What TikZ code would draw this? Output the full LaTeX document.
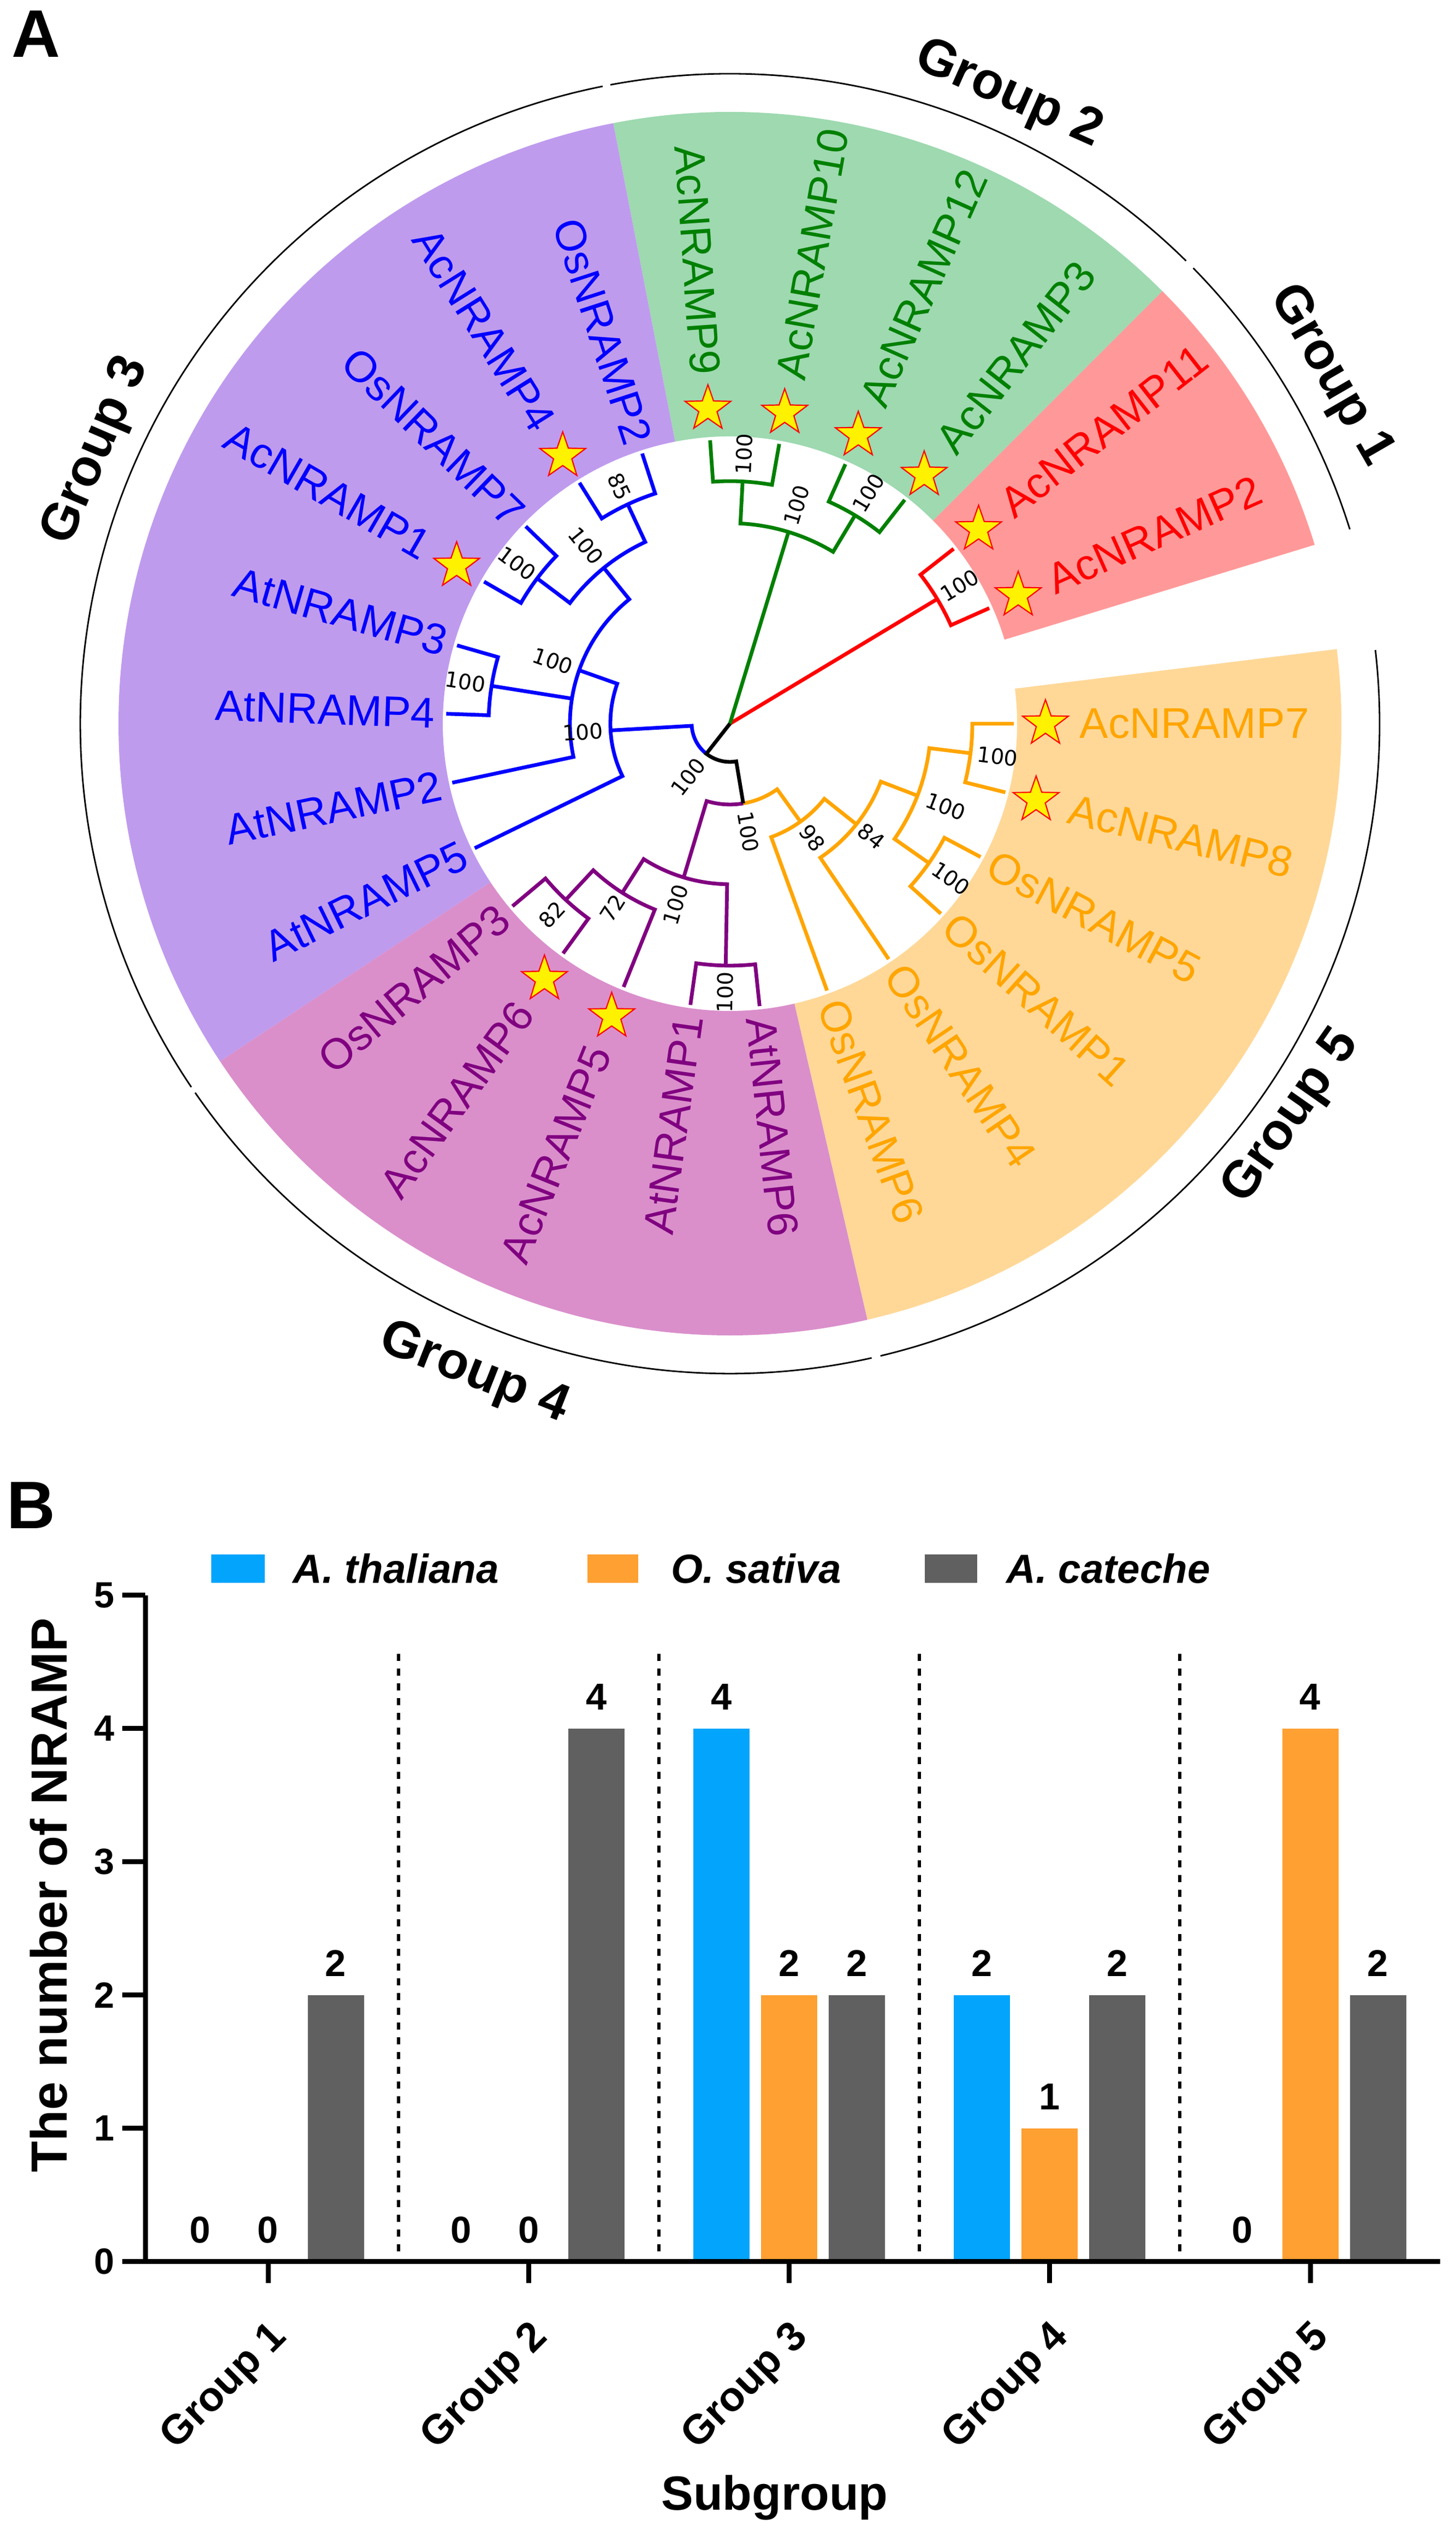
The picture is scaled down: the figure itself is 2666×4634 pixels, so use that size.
\documentclass[tikz,border=0pt]{standalone}
\usepackage{fontspec}
\setmainfont{Liberation Sans}
\newfontfamily\bsfont{DejaVu Sans}
\usetikzlibrary{shapes.geometric}
\definecolor{cred}{RGB}{255,0,0}
\definecolor{cgreen}{RGB}{0,128,0}
\definecolor{cblue}{RGB}{0,0,255}
\definecolor{cpurple}{RGB}{128,0,128}
\definecolor{corange}{RGB}{255,165,0}
\definecolor{sred}{RGB}{255,153,153}
\definecolor{sgreen}{RGB}{158,217,176}
\definecolor{spurple}{RGB}{191,155,238}
\definecolor{spink}{RGB}{218,143,203}
\definecolor{sorange}{RGB}{255,216,152}
\definecolor{barblue}{RGB}{3,165,252}
\definecolor{barorange}{RGB}{255,160,50}
\definecolor{bargray}{RGB}{96,96,96}
\newcommand\fLeaf{\fontsize{22.4}{26}\selectfont}
\newcommand\fBoot{\bsfont\fontsize{11.1}{13}\selectfont}
\newcommand\fGroup{\bfseries\fontsize{27}{32}\selectfont}
\newcommand\fPanel{\bfseries\fontsize{35}{40}\selectfont}
\newcommand\fTick{\bfseries\fontsize{19}{22}\selectfont}
\newcommand\fNum{\bfseries\fontsize{19.5}{23}\selectfont}
\newcommand\fLeg{\bfseries\itshape\fontsize{21.2}{25}\selectfont}
\newcommand\fTitle{\bfseries\fontsize{25}{30}\selectfont}
\newcommand\fYTitle{\bfseries\fontsize{26.5}{30}\selectfont}
\newcommand\fXlab{\bfseries\fontsize{21.5}{24}\selectfont}
\begin{document}
\begin{tikzpicture}[x=0.01cm,y=0.01cm,
  br/.style={line width=0.068cm, line join=miter},
  leafR/.style={anchor=west, inner sep=0pt, font=\fLeaf},
  leafL/.style={anchor=east, inner sep=0pt, font=\fLeaf},
  bs/.style={inner sep=0pt, font=\fBoot, text=black},
  starnode/.style={star, star points=5, star point ratio=2.5, fill=yellow, draw=red, line width=0.022cm, minimum size=0.88cm, inner sep=0pt},
  gbr/.style={line width=0.028cm, black},
  glab/.style={inner sep=0pt, font=\fGroup},
  axis/.style={line width=0.09cm, black},
  numlab/.style={inner sep=0pt, font=\fNum},
  ylab/.style={inner sep=0pt, font=\fTick},
  xlab/.style={inner sep=0pt, font=\fXlab},
  sep/.style={line width=0.06cm, black, dash pattern=on 0.13cm off 0.14cm}
]
\useasboundingbox (0,0) rectangle (2666,4634);

% ---------------- Panel A ----------------
\node[font=\fPanel, inner sep=0pt] (pA) at (66,4572) {A};

\begin{scope}[shift={(1337,3309)}]
% sectors
\foreach \a/\b/\c in {17/45/sred, 45/101/sgreen, 101/213.5/spurple, 213.5/283/spink, 283/367/sorange}
  \fill[\c] (\a:526) -- (\a:1120) arc[start angle=\a, end angle=\b, radius=1120] -- (\b:526) arc[start angle=\b, end angle=\a, radius=526] -- cycle;

% group brackets
\foreach \a/\b in {17.4/44.5, 45.4/100.6, 101.3/214.0, 214.6/282.6, 283.4/366.5}
  \draw[gbr] (\a:1190) arc[start angle=\a, end angle=\b, radius=1190];

% group labels
\node[glab, rotate=-60] (g1) at (30.1:1271) {Group 1};
\node[glab, rotate=-24] (g2) at (66.1:1259) {Group 2};
\node[glab, rotate=66.7] (g3) at (156.7:1263) {Group 3};
\node[glab, rotate=-21.5] (g4) at (248.5:1280) {Group 4};
\node[glab, rotate=55] (g5) at (325:1256) {Group 5};

% ---- tree ----
% red
\draw[br,cred] (0,0) -- (31:443);
\draw[br,cred] (24:520) -- (24:443) arc[start angle=24,end angle=38,radius=443] -- (38:520);
% green
\draw[br,cgreen] (0,0) -- (73:367);
\draw[br,cgreen] (59:445) -- (59:367) arc[start angle=59,end angle=87,radius=367] -- (87:444);
\draw[br,cgreen] (52:520) -- (52:445) arc[start angle=52,end angle=66,radius=445] -- (66:520);
\draw[br,cgreen] (80:520) -- (80:444) arc[start angle=80,end angle=94,radius=444] -- (94:520);
% blue
\draw[br,cblue] (231.9:70) arc[start angle=231.9,end angle=183.25,radius=70] -- (183.25:219);
\draw[br,cblue] (160.5:293) -- (160.5:219) arc[start angle=160.5,end angle=206,radius=219] -- (206:520);
\draw[br,cblue] (129:367) -- (129:293) arc[start angle=129,end angle=192,radius=293] -- (192:520);
\draw[br,cblue] (171:293) -- (171:442);
\draw[br,cblue] (164:520) -- (164:442) arc[start angle=164,end angle=178,radius=442] -- (178:520);
\draw[br,cblue] (115:443) -- (115:367) arc[start angle=115,end angle=143,radius=367] -- (143:442);
\draw[br,cblue] (108:520) -- (108:443) arc[start angle=108,end angle=122,radius=443] -- (122:520);
\draw[br,cblue] (136:520) -- (136:442) arc[start angle=136,end angle=150,radius=442] -- (150:520);
% purple
\draw[br,cpurple] (279.5:148) arc[start angle=279.5,end angle=253.25,radius=148] -- (253.25:294);
\draw[br,cpurple] (237.5:367) -- (237.5:294) arc[start angle=237.5,end angle=269,radius=294] -- (269:443);
\draw[br,cpurple] (262:520) -- (262:443) arc[start angle=262,end angle=276,radius=443] -- (276:520);
\draw[br,cpurple] (227:441) -- (227:367) arc[start angle=227,end angle=248,radius=367] -- (248:520);
\draw[br,cpurple] (220:520) -- (220:441) arc[start angle=220,end angle=234,radius=441] -- (234:520);
% orange
\draw[br,corange] (279.5:148) arc[start angle=279.5,end angle=305.75,radius=148] -- (305.75:221);
\draw[br,corange] (290:520) -- (290:221) arc[start angle=290,end angle=321.5,radius=221] -- (321.5:296);
\draw[br,corange] (304:520) -- (304:296) arc[start angle=304,end angle=339,radius=296] -- (339:368);
\draw[br,corange] (325:445) -- (325:368) arc[start angle=325,end angle=353,radius=368] -- (353:444);
\draw[br,corange] (318:520) -- (318:445) arc[start angle=318,end angle=332,radius=445] -- (332:520);
\draw[br,corange] (346:520) -- (346:444) arc[start angle=346,end angle=360,radius=444] -- (360:520);
% black root part
\draw[br,black] (0,0) -- (231.9:70) arc[start angle=231.9,end angle=279.5,radius=70] -- (279.5:148);

% bootstrap values
\foreach \a/\r/\rot/\v [count=\i] in {31/491/31/100, 73/418/73/100, 87/494/87/100, 59/493/59/100,
  115/479/-65/85, 129/419/-51/100, 143/488/-37/100, 160.5/344/-19.5/100, 171/491/-9/100,
  183.25/270/3.25/100, 231.9/124/51.9/100, 279.5/201/-80.5/100, 253.25/346/73.25/100,
  269/492/89/100, 237.5/400/57.5/72, 227/478/47/82, 305.75/258/-54.25/98, 321.5/331/-38.5/84,
  339/423/-21/100, 325/494/-35/100, 353/494/-7/100}
  \node[bs, rotate=\rot] (b\i) at (\a:\r) {\v};

% stars
\foreach \a in {24,38,52,66,80,94,122,150,234,248,346,360}
  \node[starnode] (S\a) at (\a:578) {};

% leaf labels, right side
\foreach \a/\t/\c/\r in {24/AcNRAMP2/cred/640, 38/AcNRAMP11/cred/640, 52/AcNRAMP3/cgreen/640,
  66/AcNRAMP12/cgreen/640, 80/AcNRAMP10/cgreen/640, 276/AtNRAMP6/cpurple/540,
  290/OsNRAMP6/corange/540, 304/OsNRAMP4/corange/540, 318/OsNRAMP1/corange/540,
  332/OsNRAMP5/corange/540, 346/AcNRAMP8/corange/640, 360/AcNRAMP7/corange/640}
  \node[leafR, text=\c, rotate=\a] (L\a) at (\a:\r) {\t};
% leaf labels, left side
\foreach \a/\t/\c/\r in {94/AcNRAMP9/cgreen/640, 108/OsNRAMP2/cblue/540, 122/AcNRAMP4/cblue/640,
  136/OsNRAMP7/cblue/540, 150/AcNRAMP1/cblue/640, 164/AtNRAMP3/cblue/540, 178/AtNRAMP4/cblue/540,
  192/AtNRAMP2/cblue/540, 206/AtNRAMP5/cblue/540, 220/OsNRAMP3/cpurple/540,
  234/AcNRAMP6/cpurple/640, 248/AcNRAMP5/cpurple/640, 262/AtNRAMP1/cpurple/540}{
  \pgfmathsetmacro\rot{\a-180}
  \node[leafL, text=\c, rotate=\rot] (L\a) at (\a:\r) {\t};
}
\end{scope}

% ---------------- Panel B ----------------
\node[font=\fPanel, inner sep=0pt] (pB) at (57,1878) {B};

% legend
\fill[barblue] (387,1736) rectangle (485,1788);
\node[anchor=west, inner sep=0pt, font=\fLeg] (leg1) at (536,1762) {A. thaliana};
\fill[barorange] (1076,1736) rectangle (1169,1788);
\node[anchor=west, inner sep=0pt, font=\fLeg] (leg2) at (1229,1762) {O. sativa};
\fill[bargray] (1694,1736) rectangle (1790,1788);
\node[anchor=west, inner sep=0pt, font=\fLeg] (leg3) at (1843,1762) {A. cateche};

% separators
\foreach \x in {729.6, 1206.9, 1684.1, 2161.4}
  \draw[sep] (\x,1606) -- (\x,504);

% bars
\foreach \g/\gc/\va/\vb/\vc in {1/491/0/0/2, 2/968.25/0/0/4, 3/1445.5/4/2/2, 4/1922.75/2/1/2, 5/2400/0/4/2}{
  \ifnum\va>0 \fill[barblue] ({\gc-175.5},493) rectangle ({\gc-72.5},{493+244*\va}); \fi
  \ifnum\vb>0 \fill[barorange] ({\gc-51.5},493) rectangle ({\gc+51.5},{493+244*\vb}); \fi
  \ifnum\vc>0 \fill[bargray] ({\gc+72.5},493) rectangle ({\gc+175.5},{493+244*\vc}); \fi
  \node[numlab] (n\g a) at ({\gc-124},{551+244*\va}) {\va};
  \node[numlab] (n\g b) at ({\gc},{551+244*\vb}) {\vb};
  \node[numlab] (n\g c) at ({\gc+124},{551+244*\vc}) {\vc};
  \draw[axis] (\gc,493) -- (\gc,454);
  \node[xlab, rotate=45, anchor=east] (t\g) at ({\gc+24},366) {Group \g};
}

% axes
\draw[axis] (266,1713) -- (266,493) -- (2638,493);
\foreach \k in {0,...,5}{
  \draw[axis] (224,{493+244*\k}) -- (266,{493+244*\k});
  \node[ylab] (y\k) at (191,{493+244*\k}) {\k};
}
\node[rotate=90, inner sep=0pt, font=\fYTitle] (ytitle) at (89,1164) {The number of NRAMP};
\node[anchor=base, inner sep=0pt, font=\fTitle] (xtitle) at (1419,38) {Subgroup};
\end{tikzpicture}
\end{document}
